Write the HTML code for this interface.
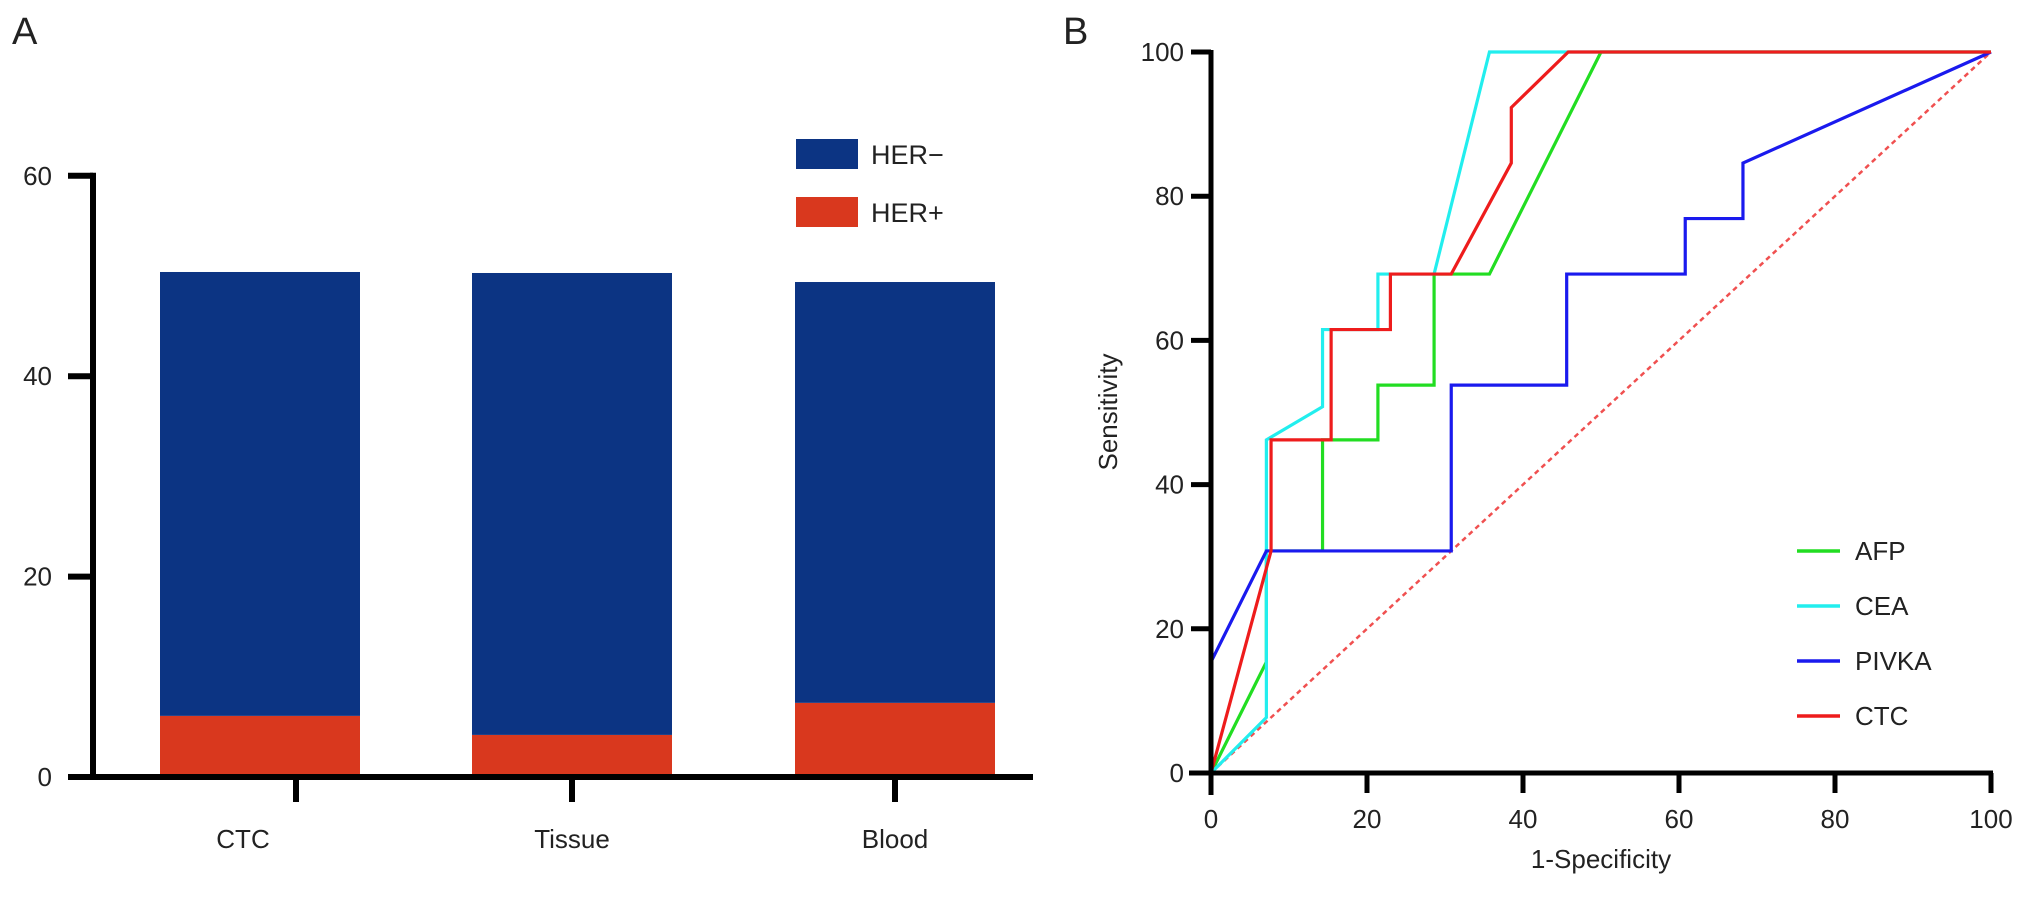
<!DOCTYPE html>
<html><head><meta charset="utf-8"><style>
html,body{margin:0;padding:0;background:#fff;}
svg{display:block;font-family:"Liberation Sans",Arial,sans-serif;}
</style></head><body>
<svg id="fig" width="2032" height="898" viewBox="0 0 2032 898" xmlns="http://www.w3.org/2000/svg">
<text x="12" y="44" font-size="38" fill="#222">A</text>
<text x="1063" y="44" font-size="38" fill="#222">B</text>
<g id="pa"></g>
<g id="pb"></g>
</svg>
<script>
// Panel A data
const categories = ["CTC","Tissue","Blood"];
const herNeg = [44.3, 46.1, 42.0];
const herPos = [6.1, 4.2, 7.4];
const yTicksA = [0,20,40,60];
// Panel B data
const rocXTicks = [0,20,40,60,80,100];
const rocYTicks = [0,20,40,60,80,100];
const afpX = [0,7.1,7.1,14.3,14.3,21.4,21.4,28.6,28.6,35.7,50,100];
const afpY = [0,15.4,30.8,30.8,46.2,46.2,53.8,53.8,69.2,69.2,100,100];
const ceaX = [0,7.1,7.1,14.3,14.3,21.4,21.4,28.6,35.7,100];
const ceaY = [0,7.7,46.2,50.8,61.5,61.5,69.2,69.2,100,100];
const pivkaX = [0,0,7.1,30.8,30.8,45.6,45.6,60.8,60.8,68.2,68.2,100];
const pivkaY = [0,15.4,30.8,30.8,53.8,53.8,69.2,69.2,76.9,76.9,84.6,100];
const ctcX = [0,7.7,7.7,15.4,15.4,23,23,30.8,38.5,38.5,45.8,100];
const ctcY = [0,30.8,46.2,46.2,61.5,61.5,69.2,69.2,84.6,92.3,100,100];

const NS="http://www.w3.org/2000/svg";
function mk(parent,tag,attrs){const e=document.createElementNS(NS,tag);for(const k in attrs)e.setAttribute(k,attrs[k]);parent.appendChild(e);return e;}

// ---- Panel A
const pa=document.getElementById('pa');
const ax0=93, ay0=777, aPer=10.02, aXEnd=1033;
const ya=v=>ay0-v*aPer;
const barCenters=[260,572,895], barW=200;
categories.forEach((c,i)=>{
  const cx=barCenters[i];
  let r=mk(pa,'rect',{x:cx-barW/2,y:ya(herPos[i]),width:barW,height:ya(0)-ya(herPos[i]),fill:'#d9381e'});
  
  
  r=mk(pa,'rect',{x:cx-barW/2,y:ya(herPos[i]+herNeg[i]),width:barW,height:ya(herPos[i])-ya(herPos[i]+herNeg[i]),fill:'#0c3483'});
  
  
  const tx=(i===0)?cx+36:cx;
  let t=mk(pa,'line',{x1:tx,x2:tx,y1:ay0,y2:ay0+25,stroke:'#000','stroke-width':6});
  
  
  const lx=(i===0)?cx-17:cx;
  let l=mk(pa,'text',{x:lx,y:848,'font-size':26,'text-anchor':'middle',fill:'#222'});l.textContent=c;
  
  
});
let la=mk(pa,'line',{x1:ax0,x2:ax0,y1:ya(60)-3,y2:ay0+3,stroke:'#000','stroke-width':6});


la=mk(pa,'line',{x1:68,x2:aXEnd,y1:ay0,y2:ay0,stroke:'#000','stroke-width':6});


yTicksA.forEach(v=>{
  let t=mk(pa,'line',{x1:68,x2:ax0,y1:ya(v),y2:ya(v),stroke:'#000','stroke-width':6});
  
  
  let l=mk(pa,'text',{x:52,y:ya(v)+9,'font-size':26,'text-anchor':'end',fill:'#222'});l.textContent=v;
  
  
});
[['HER−','#0c3483',139],['HER+','#d9381e',197]].forEach(([n,c,y])=>{
  let r=mk(pa,'rect',{x:796,y:y,width:62,height:30,fill:c});
  
  
  let t=mk(pa,'text',{x:871,y:y+25,'font-size':27,fill:'#222'});t.textContent=n;
  
  
});

// ---- Panel B
const pb=document.getElementById('pb');
const bx0=1211, bx1=1991, by0=773, by1=52;
const xb=v=>bx0+v*(bx1-bx0)/100, yb=v=>by0-v*(by0-by1)/100;
let d=mk(pb,'line',{x1:xb(0),y1:yb(0),x2:xb(100),y2:yb(100),stroke:'#f05050','stroke-width':2.5,'stroke-dasharray':'5,4'});


const series=[['AFP',afpX,afpY,'#22dd22'],['CEA',ceaX,ceaY,'#22eeee'],['PIVKA',pivkaX,pivkaY,'#1a1aee'],['CTC',ctcX,ctcY,'#ee1c1c']];
series.forEach(([n,X,Y,c])=>{
  const pts=X.map((x,i)=>xb(x)+','+yb(Y[i])).join(' ');
  let p=mk(pb,'polyline',{points:pts,fill:'none',stroke:c,'stroke-width':3.2,'stroke-linejoin':'miter'});
  
  
});
let a=mk(pb,'line',{x1:bx0,x2:bx0,y1:by1-2,y2:by0+22,stroke:'#000','stroke-width':5});


a=mk(pb,'line',{x1:bx0-22,x2:bx1+2,y1:by0,y2:by0,stroke:'#000','stroke-width':5});


rocXTicks.forEach(v=>{
  let t=mk(pb,'line',{x1:xb(v),x2:xb(v),y1:by0,y2:by0+20,stroke:'#000','stroke-width':5});
  
  
  let l=mk(pb,'text',{x:xb(v),y:828,'font-size':26,'text-anchor':'middle',fill:'#222'});l.textContent=v;
  
  
});
rocYTicks.forEach(v=>{
  let t=mk(pb,'line',{x1:bx0-20,x2:bx0,y1:yb(v),y2:yb(v),stroke:'#000','stroke-width':5});
  
  
  let l=mk(pb,'text',{x:1184,y:yb(v)+9,'font-size':26,'text-anchor':'end',fill:'#222'});l.textContent=v;
  
  
});
let xt=mk(pb,'text',{x:xb(50),y:868,'font-size':26,'text-anchor':'middle',fill:'#222'});xt.textContent='1-Specificity';


let yt=mk(pb,'text',{x:0,y:0,'font-size':26,'text-anchor':'middle',fill:'#222',transform:'translate(1117,412) rotate(-90)'});yt.textContent='Sensitivity';


series.forEach(([n,X,Y,c],i)=>{
  const y=551+i*55;
  let l=mk(pb,'line',{x1:1797,x2:1840,y1:y,y2:y,stroke:c,'stroke-width':3.5});
  
  
  let t=mk(pb,'text',{x:1855,y:y+9,'font-size':26,fill:'#222'});t.textContent=n;
  
  
});
</script>
</body></html>
